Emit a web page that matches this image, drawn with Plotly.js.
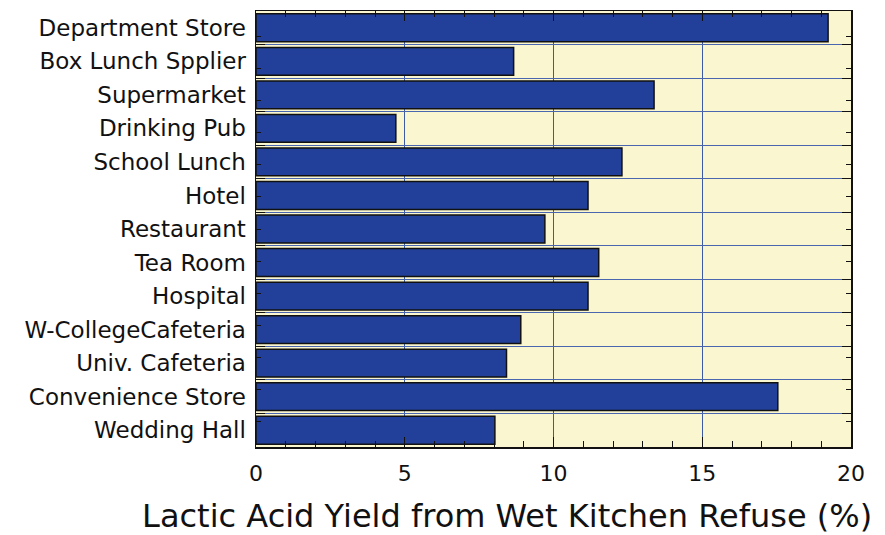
<!DOCTYPE html>
<html>
<head>
<meta charset="utf-8">
<script src="https://cdn.plot.ly/plotly-3.0.1.min.js"></script>
<style>html,body{margin:0;padding:0;background:#fff;}#chart{width:885px;height:535px;}</style>
</head>
<body>
<div id="chart"></div>
<script>
const categories = [
  "Department Store",
  "Box Lunch Spplier",
  "Supermarket",
  "Drinking Pub",
  "School Lunch",
  "Hotel",
  "Restaurant",
  "Tea Room",
  "Hospital",
  "W-CollegeCafeteria",
  "Univ. Cafeteria",
  "Convenience Store",
  "Wedding Hall"
];
const yieldValues = [19.23, 8.66, 13.38, 4.70, 12.30, 11.16, 9.71, 11.52, 11.16, 8.90, 8.42, 17.54, 8.03];
const xTickValues = [0, 5, 10, 15, 20];
const xTickLabels = ["0", "5", "10", "15", "20"];
const axisTitle = "Lactic Acid Yield from Wet Kitchen Refuse (%)";

const bars = {
  type: "bar",
  orientation: "h",
  x: yieldValues,
  y: categories,
  marker: { color: "#22409a", line: { color: "#111111", width: 1.5 } },
  hoverinfo: "x+y",
  yaxis: "y"
};
const centerTicks = {
  type: "scatter",
  mode: "markers",
  x: yieldValues,
  y: categories,
  marker: { opacity: 0 },
  hoverinfo: "skip",
  showlegend: false,
  yaxis: "y2"
};

const font = "DejaVu Sans, sans-serif";
const layout = {
  width: 885,
  height: 535,
  margin: { l: 256, r: 34, t: 11, b: 88 },
  paper_bgcolor: "#ffffff",
  plot_bgcolor: "#faf6cf",
  showlegend: false,
  bargap: 0.17,
  font: { family: font, color: "#111" },
  title: {
    text: axisTitle,
    font: { family: font, size: 32, color: "#111" },
    x: 0.573, xanchor: "center", xref: "container",
    y: 0.036, yanchor: "middle", yref: "container"
  },
  xaxis: {
    range: [0, 20],
    tickvals: xTickValues,
    ticktext: xTickLabels,
    ticks: "inside",
    ticklen: 10,
    tickcolor: "#111",
    tickwidth: 1,
    minor: { dtick: 1, ticks: "inside", ticklen: 6, tickcolor: "#111", showgrid: false },
    showgrid: true,
    gridcolor: "#3d5aa6",
    gridwidth: 1,
    showline: true,
    linecolor: "#111",
    linewidth: 1.5,
    mirror: "ticks",
    zeroline: false,
    tickfont: { family: font, size: 22, color: "#111" },
    ticklabelstandoff: 6,
    fixedrange: true
  },
  yaxis: {
    type: "category",
    autorange: "reversed",
    tickson: "boundaries",
    ticks: "inside",
    ticklen: 9,
    tickcolor: "#111",
    showgrid: true,
    gridcolor: "#4a66ae",
    gridwidth: 1,
    showline: true,
    linecolor: "#111",
    linewidth: 1.5,
    mirror: "ticks",
    tickfont: { family: font, size: 23, color: "#111" },
    ticklabelstandoff: 4,
    fixedrange: true
  },
  yaxis2: {
    type: "category",
    overlaying: "y",
    autorange: "reversed",
    ticks: "inside",
    ticklen: 5,
    tickcolor: "#111",
    showticklabels: false,
    showgrid: false,
    showline: false,
    mirror: "ticks",
    side: "left",
    fixedrange: true
  }
};

Plotly.newPlot("chart", [bars, centerTicks], layout, { displayModeBar: false, staticPlot: true });
</script>
</body>
</html>
